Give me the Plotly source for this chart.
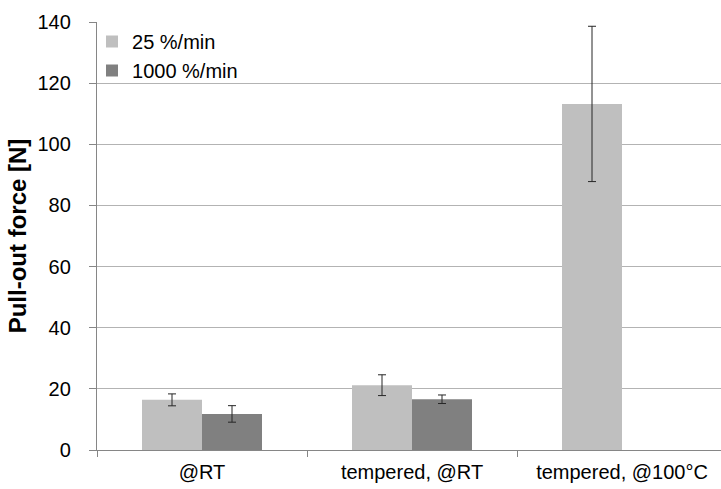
import plotly.graph_objects as go

categories = ["@RT", "tempered, @RT", "tempered, @100°C"]
series_names = ["25 %/min", "1000 %/min"]
slow_values = [16.4, 21.2, 113.2]
slow_errors = [1.95, 3.4, 25.4]
fast_values = [11.8, 16.6, None]
fast_errors = [2.7, 1.4, None]
y_ticks = [0, 20, 40, 60, 80, 100, 120, 140]

FONT = "Liberation Sans, Arial, sans-serif"

fig = go.Figure()
fig.add_trace(go.Bar(
    name=series_names[0], x=categories, y=slow_values,
    marker=dict(color="#bfbfbf", line=dict(width=0)),
    error_y=dict(type="data", array=slow_errors, visible=True,
                 color="#262626", thickness=1, width=4),
))
fig.add_trace(go.Bar(
    name=series_names[1], x=categories, y=fast_values,
    marker=dict(color="#808080", line=dict(width=0)),
    error_y=dict(type="data", array=fast_errors, visible=True,
                 color="#262626", thickness=1, width=4),
))

fig.update_layout(
    width=721, height=489,
    margin=dict(l=97, r=0, t=22, b=39, pad=0),
    paper_bgcolor="white", plot_bgcolor="white",
    barmode="group", bargap=0.4286, bargroupgap=0,
    font=dict(family=FONT, size=20, color="#000000"),
    legend=dict(x=-0.008, y=1.0, xanchor="left", yanchor="top",
                bgcolor="rgba(0,0,0,0)", font=dict(size=20),
                tracegroupgap=0, itemwidth=30),
    showlegend=True,
)
fig.update_xaxes(
    type="category", range=[-0.5, -0.5 + 624 / 210],
    showline=True, linecolor="#868686", linewidth=1.3,
    ticks="outside", tickson="boundaries", ticklen=6, tickcolor="#868686",
    showgrid=False, zeroline=False, ticklabelstandoff=4,
    tickfont=dict(size=20, family=FONT),
)
fig.update_yaxes(
    range=[0, 140], tickvals=y_ticks,
    showline=True, linecolor="#868686", linewidth=1.3,
    ticks="outside", ticklen=7, tickcolor="#868686",
    showgrid=True, gridcolor="#b3b3b3", gridwidth=1.3,
    zeroline=False, ticklabelstandoff=14,
    tickfont=dict(size=20, family=FONT),
    title=dict(text="<b>Pull-out force [N]</b>", font=dict(size=24, family=FONT), standoff=4),
)

fig.write_html("out.html")
